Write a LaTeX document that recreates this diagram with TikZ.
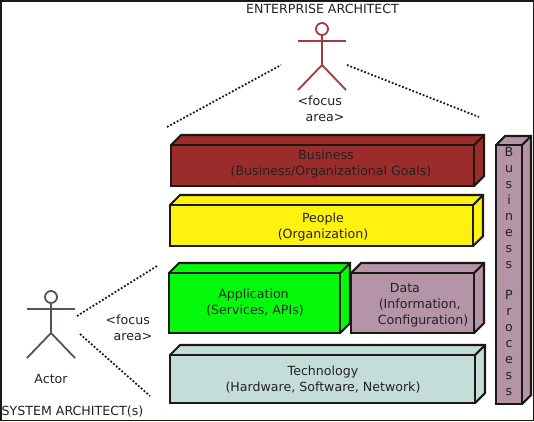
\documentclass[tikz,border=0pt]{standalone}
\usepackage{fontspec}
\setmainfont{DejaVu Sans}
\definecolor{ink}{HTML}{1A1A12}
\definecolor{txt}{HTML}{222222}
\definecolor{brick}{HTML}{9C2C2C}
\definecolor{yel}{HTML}{FFF20F}
\definecolor{grn}{HTML}{05F90B}
\definecolor{mauve}{HTML}{B594A8}
\definecolor{pale}{HTML}{C5DDD9}
\definecolor{actorgrey}{HTML}{4D5753}
\definecolor{actorred}{HTML}{A33A3F}
\tikzset{
  x=1pt,y=-1pt,
  boxedge/.style={draw=ink,line width=2.1pt,line join=miter},
  lbl/.style={font=\fontsize{12.6}{16}\selectfont,text=txt,align=center,inner sep=0pt},
  focus/.style={draw=ink,line width=1.8pt,dash pattern=on 1.8pt off 1.9pt},
  limb/.style={line width=1.8pt}
}
% name, x1,y1,x2,y2, depth, colour
\newcommand{\cuboid}[7]{%
  \fill[#7] (#2,#3) -- ++(#6,-#6) -- (#4+#6,#3-#6) -- (#4+#6,#5-#6) -- (#4,#5) -- (#2,#5) -- cycle;
  \node[boxedge,fill=#7,minimum width=#4pt-#2pt,minimum height=#5pt-#3pt,inner sep=0pt,outer sep=0pt,anchor=north west] (#1) at (#2,#3) {};
  \draw[boxedge] (#1.north west) -- ++(#6,-#6) -- ++(#4-#2,0) -- ++(0,#5-#3) -- (#1.south east);
  \draw[boxedge] (#1.north east) -- ++(#6,-#6);
}
% name, x, y (head centre), colour
\newcommand{\stick}[4]{%
  \node[circle,draw=#4,line width=1.8pt,minimum size=12pt,inner sep=0pt,fill=white] (#1) at (#2,#3) {};
  \coordinate (#1h) at (#2,#3+36);
  \draw[limb,#4] (#1.south) -- (#1h);
  \draw[limb,#4] (#2-24,#3+12) -- (#2+24,#3+12);
  \draw[limb,#4] (#2-24,#3+61) -- (#1h) -- (#2+24,#3+61);
}
\begin{document}
\begin{tikzpicture}
\useasboundingbox (0,0) rectangle (534,421);
\fill[white] (0,0) rectangle (534,421);
\draw[ink,line width=1.6pt] (0.7,0.7) rectangle (533.3,420.3);

\cuboid{business}{171}{145}{474}{186}{10}{brick}
\cuboid{people}{170}{205}{473}{246}{10}{yel}
\cuboid{application}{169}{273}{340}{333}{10}{grn}
\cuboid{data}{351}{273}{474}{333}{10}{mauve}
\cuboid{technology}{170}{355}{475}{403}{10}{pale}
\cuboid{process}{496}{145}{522}{404}{9}{mauve}

\node[lbl] (t1) at (331,164) {\hspace*{-10pt}Business\\(Business/Organizational Goals)};
\node[lbl] (t2) at (323,227) {People\\(Organization)};
\node[lbl] (t3) at (255,302.5) {\hspace*{-3pt}Application\\(Services, APIs)};
\node[lbl,align=left] (t4) at (423,305.5) {\hspace*{12pt}Data\\\hspace*{1pt}(Information,\\Configuration)};
\node[lbl] (t5) at (323,379.5) {Technology\\(Hardware, Software, Network)};
\node[lbl] (t6) at (509,271.5) {B\\u\\s\\i\\n\\e\\s\\s\\[15pt]P\\r\\o\\c\\e\\s\\s};

\stick{ea}{322}{29}{actorred}
\stick{sa}{51}{297}{actorgrey}

\node[lbl] (eatitle) at (322.5,8.5) {ENTERPRISE ARCHITECT};
\node[lbl,align=left] (eafocus) at (321,109) {<focus\\\hspace*{8pt}area>};
\node[lbl] (actorlabel) at (51,378.5) {Actor};
\node[lbl,align=left] (safocus) at (129,328) {<focus\\\hspace*{8pt}area>};
\node[lbl,anchor=west] (satitle) at (1.5,411.5) {SYSTEM ARCHITECT(s)};

\coordinate (a1) at (167,127);
\coordinate (a2) at (281,65);
\coordinate (b1) at (347,65);
\coordinate (b2) at (479,117);
\coordinate (c1) at (77,316);
\coordinate (c2) at (157,266);
\coordinate (d1) at (80,334);
\coordinate (d2) at (150,396);
\draw[focus] (a1) -- (a2);
\draw[focus] (b1) -- (b2);
\draw[focus] (c1) -- (c2);
\draw[focus] (d1) -- (d2);
\end{tikzpicture}
\end{document}
